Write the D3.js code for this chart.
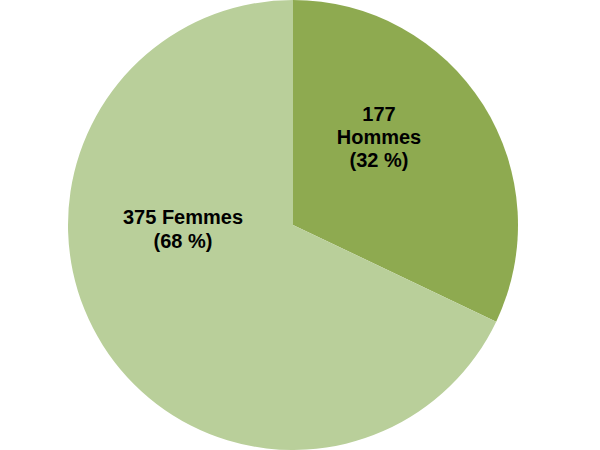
<!DOCTYPE html>
<html><head><meta charset="utf-8">
<script src="https://cdn.jsdelivr.net/npm/d3@7"></script>
<style>html,body{margin:0;padding:0;background:#fff;}</style>
</head><body>
<svg id="chart" width="600" height="450"></svg>
<script>
const categories = ["Hommes", "Femmes"];
const values = [177, 375];
const percents = ["32 %", "68 %"];
const colors = ["#8eaa50", "#b9cf9a"];

const svg = d3.select("#chart");
const cx = 293, cy = 225, r = 225;
const g = svg.append("g").attr("transform", `translate(${cx},${cy})`);
const pie = d3.pie().sort(null).value(d => d)(values);
const arc = d3.arc().innerRadius(0).outerRadius(r);
g.selectAll("path").data(pie).enter().append("path")
  .attr("d", arc).attr("fill", (d, i) => colors[i]);

const font = "'Liberation Sans', Arial, sans-serif";
// Hommes label (three lines)
const l0 = g.append("text").attr("text-anchor", "middle")
  .attr("font-family", font).attr("font-weight", "bold").attr("font-size", 20).attr("fill", "#000");
const hLines = [String(values[0]), categories[0], `(${percents[0]})`];
hLines.forEach((t, i) => l0.append("tspan").attr("x", 86).attr("y", -104 + i * 23).text(t));
// Femmes label (two lines)
const l1 = g.append("text").attr("text-anchor", "middle")
  .attr("font-family", font).attr("font-weight", "bold").attr("font-size", 20).attr("fill", "#000");
const fLines = [`${values[1]} ${categories[1]}`, `(${percents[1]})`];
fLines.forEach((t, i) => l1.append("tspan").attr("x", -110).attr("y", -1 + i * 23.5).text(t));
</script>
</body></html>
